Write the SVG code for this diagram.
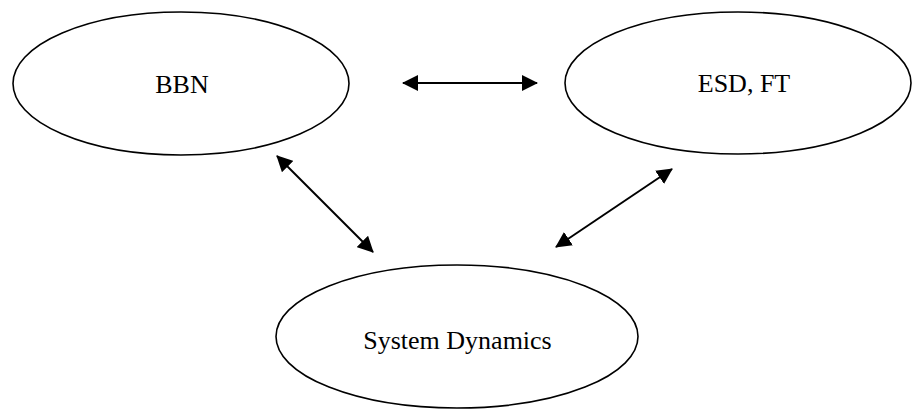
<svg xmlns="http://www.w3.org/2000/svg" width="917" height="410" viewBox="0 0 917 410">
  <style>
    .node ellipse { fill: #ffffff; stroke: #000000; stroke-width: 1.6; }
    .node text { font-family: "Liberation Serif", "Times New Roman", serif; font-size: 26px; fill: #000000; text-anchor: middle; }
    .link { stroke: #000000; stroke-width: 2; fill: none; marker-start: url(#head); marker-end: url(#head); }
  </style>
  <defs>
    <marker id="head" viewBox="0 0 16 16" refX="15" refY="8" markerWidth="16" markerHeight="16" markerUnits="userSpaceOnUse" orient="auto-start-reverse">
      <path d="M0,0 L16,8 L0,16 Z" fill="#000000"/>
    </marker>
  </defs>
  <rect width="917" height="410" fill="#ffffff"/>

  <g id="bbn" class="node">
    <ellipse cx="181" cy="83.5" rx="168" ry="71.5"/>
    <text x="182" y="93">BBN</text>
  </g>

  <g id="esd-ft" class="node">
    <ellipse cx="738" cy="83" rx="173" ry="71"/>
    <text x="744" y="92">ESD, FT</text>
  </g>

  <g id="system-dynamics" class="node">
    <ellipse cx="457" cy="336.5" rx="181" ry="71.5"/>
    <text x="457.5" y="349">System Dynamics</text>
  </g>

  <g id="connectors">
    <line class="link" x1="403" y1="83" x2="537" y2="83"/>
    <line class="link" x1="277" y1="156" x2="373" y2="252"/>
    <line class="link" x1="672" y1="169" x2="556" y2="247"/>
  </g>
</svg>
